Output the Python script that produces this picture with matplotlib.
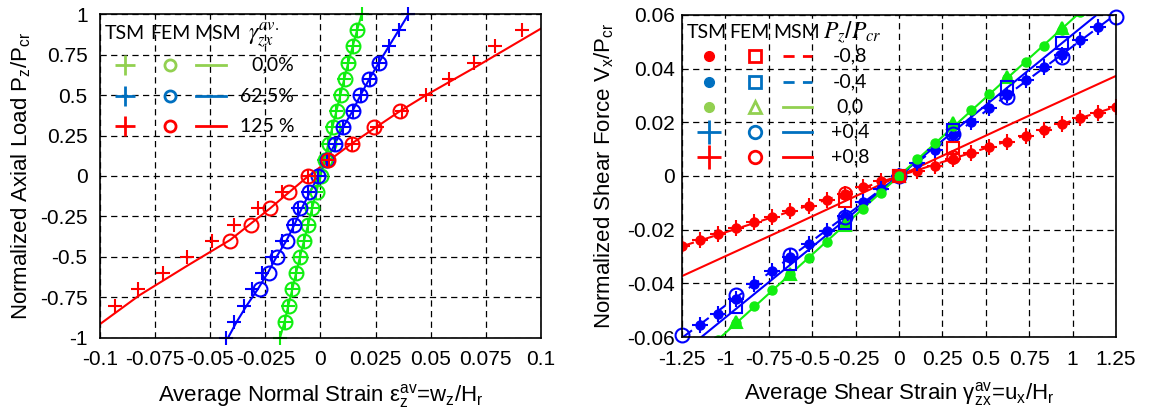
import numpy as np
import matplotlib
matplotlib.use('Agg')
import matplotlib.pyplot as plt

plt.rcParams['font.family'] = ['Liberation Sans', 'DejaVu Sans']
plt.rcParams['mathtext.default'] = 'regular'

# ---------------- left panel data (axial load vs normal strain) ----------------
P_tsm = [-1.0, -0.9, -0.8, -0.7, -0.6, -0.5, -0.4, -0.3, -0.2, -0.1, 0.0,
         0.1, 0.2, 0.3, 0.4, 0.5, 0.6, 0.7, 0.8, 0.9, 1.0]
eps_g_tsm = [-0.0184, -0.0163, -0.0146, -0.0128, -0.0111, -0.0093, -0.0075, -0.0056, -0.0038, -0.0019, 0.0,
             0.0018, 0.0036, 0.0054, 0.0072, 0.0090, 0.0108, 0.0126, 0.0146, 0.0166, 0.0187]
P_g_fem = [-0.9, -0.8, -0.7, -0.6, -0.5, -0.4, -0.3, -0.2, -0.1, 0.0,
           0.1, 0.2, 0.3, 0.4, 0.5, 0.6, 0.7, 0.8, 0.9]
eps_g_fem = [-0.0162, -0.0145, -0.0127, -0.0110, -0.0092, -0.0074, -0.0055, -0.0037, -0.0018, 0.0004,
             0.0019, 0.0037, 0.0055, 0.0073, 0.0091, 0.0109, 0.0127, 0.0147, 0.0166]

eps_b_tsm = [-0.0429, -0.0392, -0.0347, -0.0309, -0.0267, -0.0219, -0.0176, -0.0126, -0.0100, -0.0055, -0.0010,
             0.0030, 0.0066, 0.0102, 0.0146, 0.0182, 0.0224, 0.0267, 0.0310, 0.0356, 0.0397]
P_b_fem = [-0.7, -0.6, -0.5, -0.4, -0.3, -0.2, -0.1, 0.0, 0.1, 0.2, 0.3, 0.4, 0.5, 0.6, 0.7]
eps_b_fem = [-0.0274, -0.0234, -0.0199, -0.0153, -0.0120, -0.0093, -0.0052, -0.0010,
             0.0030, 0.0066, 0.0102, 0.0148, 0.0180, 0.0220, 0.0265]
eps_b_msm = [-0.0420, -0.0380, -0.0335, -0.0285, -0.0240, -0.0200, -0.0155, -0.0118, -0.0085, -0.0048, -0.0010,
             0.0030, 0.0066, 0.0102, 0.0145, 0.0182, 0.0222, 0.0265, 0.0310, 0.0355, 0.0400]

P_r_tsm = [-0.8, -0.7, -0.6, -0.5, -0.4, -0.3, -0.2, -0.1, 0.0, 0.1, 0.2, 0.3, 0.4, 0.5, 0.6, 0.7, 0.8, 0.9]
eps_r_tsm = [-0.0932, -0.0826, -0.0713, -0.0607, -0.0494, -0.0392, -0.0282, -0.0176, -0.0055,
             0.0038, 0.0145, 0.0255, 0.0368, 0.0480, 0.0584, 0.0696, 0.0791, 0.0915]
P_r_fem = [-0.4, -0.3, -0.2, -0.1, 0.0, 0.1, 0.2, 0.3, 0.4]
eps_r_fem = [-0.0410, -0.0317, -0.0229, -0.0143, -0.0055, 0.0035, 0.0141, 0.0243, 0.0360]
eps_r_msm = [-0.1, -0.082, -0.0607, -0.041, -0.0229, -0.0055, 0.0141, 0.036, 0.048, 0.070, 0.1]
P_r_msm = [-0.914, -0.735, -0.556, -0.395, -0.2, 0.0, 0.2, 0.4, 0.5, 0.67, 0.91]

# ---------------- right panel data (shear force vs shear strain) ----------------
g_tsm = [-1.25, -1.146, -1.042, -0.938, -0.833, -0.729, -0.625, -0.521, -0.417, -0.313, -0.208, -0.104, 0.0,
         0.104, 0.208, 0.313, 0.417, 0.521, 0.625, 0.729, 0.833, 0.938, 1.042, 1.146, 1.25]
v_red_tsm = [-0.0261, -0.0238, -0.0217, -0.0195, -0.0173, -0.0151, -0.0131, -0.0111, -0.0088, -0.0067, -0.0040, -0.0019, 0.0,
             0.0017, 0.0039, 0.0065, 0.0085, 0.0109, 0.0128, 0.0149, 0.0171, 0.0193, 0.0215, 0.0235, 0.0258]
g_blue_tsm = g_tsm[1:-1]
v_blue_tsm = [-0.0557, -0.0513, -0.0457, -0.0404, -0.0354, -0.0303, -0.0254, -0.0205, -0.0150, -0.0097, -0.0048, 0.0,
              0.0047, 0.0096, 0.0152, 0.0202, 0.0252, 0.0302, 0.0358, 0.0407, 0.0451, 0.0507, 0.0556]
g_green_tsm = g_tsm[2:-2]
v_green_tsm = [-0.0610, -0.0546, -0.0486, -0.0426, -0.0366, -0.0305, -0.0246, -0.0185, -0.0124, -0.0062, 0.0,
               0.0062, 0.0124, 0.0185, 0.0245, 0.0305, 0.0365, 0.0426, 0.0484, 0.0545, 0.0610]

g_fem = [-0.9375, -0.625, -0.3125, 0.0, 0.3125, 0.625, 0.9375]
v_green_fem = [-0.0544, -0.0364, -0.0184, 0.0, 0.0197, 0.0370, 0.0550]
v_blue_sq = [-0.0488, -0.0327, -0.0174, 0.0, 0.0171, 0.0333, 0.0495]
g_blue_circ = [-1.25, -0.9375, -0.625, -0.3125, 0.0, 0.3125, 0.625, 0.9375, 1.25]
v_blue_circ = [-0.0594, -0.0445, -0.0296, -0.0153, 0.0, 0.0155, 0.0295, 0.0445, 0.0594]
g_red_fem = [-0.3125, 0.0, 0.3125]
v_red_sq = [-0.0095, 0.0, 0.0103]
v_red_circ = [-0.0062, 0.0, 0.0072]

g_msm = [-1.25, -0.625, 0.0, 0.625, 1.25]
v_red_dash = [-0.0262, -0.0132, 0.0, 0.0130, 0.0258]
v_red_solid = [-0.0373, -0.0188, 0.0, 0.0188, 0.0373]
v_blue_dash = [-0.0603, -0.0302, 0.0, 0.0302, 0.0603]
v_blue_solid = [-0.0659, -0.0330, 0.0, 0.0330, 0.0659]
g_green_msm = [-1.06, 0.0, 1.06]
v_green_msm = [-0.0620, 0.0, 0.0620]

RED, BLUE, GREEN = '#ff0000', '#0000ff', '#11ee11'
LRED, LBLUE, LGREEN = '#ff0000', '#0070c0', '#92d050'

fig = plt.figure(figsize=(11.51, 4.13), dpi=100)
ax1 = fig.add_axes([0.0869, 0.1816, 0.3831, 0.7845])
ax2 = fig.add_axes([0.5925, 0.184, 0.3771, 0.7797])

def style(ax):
    ax.grid(True, color='black', linestyle=(0, (5, 3.5)), linewidth=0.9)
    ax.set_axisbelow(True)
    ax.tick_params(length=0, pad=9, labelsize=15)
    for s in ax.spines.values():
        s.set_linewidth(1.2)

# ---- left ----
ax1.plot(eps_g_tsm, P_tsm, color=GREEN, lw=1.5)
ax1.plot(eps_b_msm, P_tsm, color=BLUE, lw=1.5)
ax1.plot(eps_r_msm, P_r_msm, color=RED, lw=1.5)
mk = dict(ls='none', ms=10, mew=1.5, clip_on=False)
ax1.plot(eps_g_tsm, P_tsm, marker='+', color=GREEN, **mk)
ax1.plot(eps_g_fem, P_g_fem, marker='o', mfc='none', mec=GREEN, **mk)
ax1.plot(eps_b_tsm, P_tsm, marker='+', color=BLUE, **mk)
ax1.plot(eps_b_fem, P_b_fem, marker='o', mfc='none', mec=BLUE, **mk)
ax1.plot(eps_r_tsm, P_r_tsm, marker='+', color=RED, **mk)
ax1.plot(eps_r_fem, P_r_fem, marker='o', mfc='none', mec=RED, **mk)

ax1.set_xlim(-0.1, 0.1)
ax1.set_ylim(-1, 1)
ax1.set_xticks([-0.1, -0.075, -0.05, -0.025, 0, 0.025, 0.05, 0.075, 0.1])
ax1.set_xticklabels(['-0.1', '-0.075', '-0.05', '-0.025', '0', '0.025', '0.05', '0.075', '0.1'])
ax1.set_yticks([-1, -0.75, -0.5, -0.25, 0, 0.25, 0.5, 0.75, 1])
ax1.set_yticklabels(['-1', '-0.75', '-0.5', '-0.25', '0', '0.25', '0.5', '0.75', '1'])
style(ax1)
ax1.set_ylabel('Normalized Axial Load P$_{z}$/P$_{cr}$', fontsize=16)
ax1.set_xlabel('Average Normal Strain \u03b5$^{av}_{z}$=w$_{z}$/H$_{r}$', fontsize=16)
ax1.yaxis.set_label_coords(-0.151, 0.5)
ax1.xaxis.set_label_coords(0.5, -0.135)

# left legend
lf = dict(fontsize=14, family=['Lato', 'DejaVu Sans'], transform=ax1.transAxes, va='center')
for xh, t in [(0.056, 'TSM'), (0.16, 'FEM'), (0.266, 'MSM')]:
    ax1.text(xh, 0.941, t, ha='center', **lf)
ax1.text(0.335, 0.935, r'$\mathit{\gamma}^{\mathit{av.}}_{\mathit{zx}}$', ha='left', fontsize=17,
         math_fontfamily='stix', transform=ax1.transAxes, va='center')
for yr, c, lab in [(0.843, LGREEN, '0,0%'), (0.747, LBLUE, '62,5%'), (0.654, LRED, '125 %')]:
    ax1.plot([0.057], [yr], marker='+', ms=15, mew=2, color=c, transform=ax1.transAxes)
    ax1.plot([0.159], [yr], marker='o', ms=8, mew=2, mfc='none', mec=c, transform=ax1.transAxes)
    ax1.plot([0.218, 0.286], [yr, yr], lw=2, color=c, transform=ax1.transAxes)
    ax1.text(0.44, yr, lab, ha='right', **lf)

# ---- right ----
ax2.plot(g_msm, v_red_dash, color=RED, lw=1.5, ls=(0, (6, 4)))
ax2.plot(g_msm, v_red_solid, color=RED, lw=1.5)
ax2.plot(g_msm, v_blue_dash, color=BLUE, lw=1.5, ls=(0, (6, 4)))
ax2.plot(g_msm, v_blue_solid, color=BLUE, lw=1.5)
ax2.plot(g_green_msm, v_green_msm, color=GREEN, lw=1.5)

ax2.plot(g_tsm, v_red_tsm, ls='none', marker='o', ms=6.5, color=RED)
ax2.plot(g_tsm, v_red_tsm, ls='none', marker='+', ms=12, mew=1.5, color=RED)
ax2.plot(g_blue_tsm, v_blue_tsm, ls='none', marker='o', ms=6.5, color=BLUE)
ax2.plot(g_blue_tsm, v_blue_tsm, ls='none', marker='+', ms=12, mew=1.5, color=BLUE)
ax2.plot(g_green_tsm, v_green_tsm, ls='none', marker='o', ms=6.5, color=GREEN)
ax2.plot(g_fem, v_green_fem, ls='none', marker='^', ms=9, mew=1.5, mfc=GREEN, mec=GREEN)
ax2.plot(g_fem, v_blue_sq, ls='none', marker='s', ms=8.5, mew=1.5, mfc='none', mec=BLUE)
ax2.plot(g_blue_circ, v_blue_circ, ls='none', marker='o', ms=10, mew=1.5, mfc='none', mec=BLUE, clip_on=False)
ax2.plot(g_red_fem, v_red_sq, ls='none', marker='s', ms=8.5, mew=1.5, mfc='none', mec=RED)
ax2.plot(g_red_fem, v_red_circ, ls='none', marker='o', ms=9, mew=1.5, mfc='none', mec=RED)

ax2.set_xlim(-1.25, 1.25)
ax2.set_ylim(-0.06, 0.06)
ax2.set_xticks([-1.25, -1, -0.75, -0.5, -0.25, 0, 0.25, 0.5, 0.75, 1, 1.25])
ax2.set_xticklabels(['-1.25', '-1', '-0.75', '-0.5', '-0.25', '0', '0.25', '0.5', '0.75', '1', '1.25'])
ax2.set_yticks([-0.06, -0.04, -0.02, 0, 0.02, 0.04, 0.06])
ax2.set_yticklabels(['-0.06', '-0.04', '-0.02', '0', '0.02', '0.04', '0.06'])
style(ax2)
ax2.tick_params(axis='y', pad=5)
ax2.set_ylabel('Normalized Shear Force V$_{x}$/P$_{cr}$', fontsize=16)
ax2.set_xlabel('Average Shear Strain \u03b3$^{av}_{zx}$=u$_{x}$/H$_{r}$', fontsize=16)
ax2.yaxis.set_label_coords(-0.151, 0.5)
ax2.xaxis.set_label_coords(0.5, -0.135)

# right legend
rf = dict(fontsize=14, family=['Lato', 'DejaVu Sans'], transform=ax2.transAxes, va='center')
for xh, t in [(0.058, 'TSM'), (0.156, 'FEM'), (0.264, 'MSM')]:
    ax2.text(xh, 0.946, t, ha='center', **rf)
ax2.text(0.325, 0.946, r'$\mathit{P}_{\mathit{z}}/\mathit{P}_{\mathit{cr}}$', ha='left', fontsize=17,
         math_fontfamily='stix', transform=ax2.transAxes, va='center')
rows = [(0.873, LRED, 'o', 's', '--', '-0,8'), (0.793, LBLUE, 'o', 's', '--', '-0,4'),
        (0.715, LGREEN, 'o', '^', '-', '0,0'), (0.636, LBLUE, '+', 'o', '-', '+0,4'),
        (0.558, LRED, '+', 'o', '-', '+0,8')]
for yr, c, m1, m2, ls, lab in rows:
    if m1 == 'o':
        ax2.plot([0.063], [yr], marker='o', ms=7, color=c, transform=ax2.transAxes)
    else:
        ax2.plot([0.063], [yr], marker='+', ms=17, mew=2, color=c, transform=ax2.transAxes)
    ax2.plot([0.168], [yr], marker=m2, ms=9, mew=2, mfc='none', mec=c, transform=ax2.transAxes)
    ax2.plot([0.232, 0.299], [yr, yr], lw=2, color=c, ls=(0, (4, 3)) if ls == '--' else '-',
             transform=ax2.transAxes)
    ax2.text(0.388, yr, lab, ha='center', **rf)

fig.savefig('out.png', dpi=100)
